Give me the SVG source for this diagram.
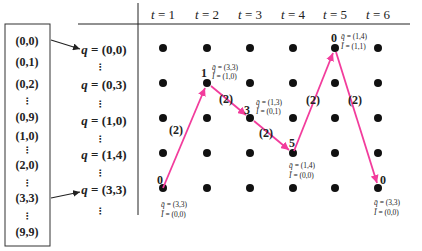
<svg xmlns="http://www.w3.org/2000/svg" width="422" height="251" viewBox="0 0 422 251">
<style>
.b{font-family:"Liberation Serif","DejaVu Serif",serif;font-weight:bold;font-size:12px;fill:#222;text-anchor:middle}
.q{font-family:"Liberation Serif","DejaVu Serif",serif;font-weight:bold;font-size:13px;fill:#222;text-anchor:middle}
.h{font-family:"Liberation Serif","DejaVu Serif",serif;font-size:13px;fill:#222;text-anchor:middle}
.s{font-family:"Liberation Serif","DejaVu Serif",serif;font-size:7.5px;fill:#222}
.v{font-family:"DejaVu Sans",sans-serif;font-size:9px;fill:#222;text-anchor:middle;font-weight:bold}
.d{fill:#111}
.ln{stroke:#222;stroke-width:1;fill:none}
.pk{stroke:#f23c9c;stroke-width:1.8;fill:none;marker-end:url(#pa)}
.bk{stroke:#222;stroke-width:1.2;fill:none;marker-end:url(#ba)}
</style>
<defs>
<marker id="pa" markerWidth="10" markerHeight="8" refX="8" refY="4" orient="auto" markerUnits="userSpaceOnUse"><path d="M0,0 L8,4 L0,8 z" fill="#f23c9c"/></marker>
<marker id="ba" markerWidth="9" markerHeight="7" refX="7" refY="3.5" orient="auto" markerUnits="userSpaceOnUse"><path d="M0,0 L7,3.5 L0,7 z" fill="#222"/></marker>
</defs>
<g id="table">
<line class="ln" x1="78" y1="24" x2="410" y2="24"/>
<line class="ln" x1="138" y1="3" x2="138" y2="215"/>
<text class="h" x="163" y="19"><tspan font-style="italic">t</tspan> = 1</text>
<text class="h" x="207" y="19"><tspan font-style="italic">t</tspan> = 2</text>
<text class="h" x="250" y="19"><tspan font-style="italic">t</tspan> = 3</text>
<text class="h" x="293" y="19"><tspan font-style="italic">t</tspan> = 4</text>
<text class="h" x="335" y="19"><tspan font-style="italic">t</tspan> = 5</text>
<text class="h" x="378" y="19"><tspan font-style="italic">t</tspan> = 6</text>
</g>
<g id="statebox">
<rect x="5" y="24" width="45" height="222" fill="none" stroke="#333" stroke-width="1"/>
<text class="b" x="27" y="45">(0,0)</text>
<text class="b" x="27" y="66">(0,1)</text>
<text class="b" x="27" y="88">(0,2)</text>
<text class="v" x="27" y="104">⋮</text>
<text class="b" x="27" y="121">(0,9)</text>
<text class="b" x="27" y="140">(1,0)</text>
<text class="v" x="27" y="153">⋮</text>
<text class="b" x="27" y="169">(2,0)</text>
<text class="v" x="27" y="186">⋮</text>
<text class="b" x="27" y="202">(3,3)</text>
<text class="v" x="27" y="219">⋮</text>
<text class="b" x="27" y="236">(9,9)</text>
</g>
<g id="qlabels">
<text class="q" x="104" y="54"><tspan font-style="italic">q</tspan> = (0,0)</text>
<text class="v" x="100" y="70">⋮</text>
<text class="q" x="104" y="89"><tspan font-style="italic">q</tspan> = (0,3)</text>
<text class="v" x="100" y="107">⋮</text>
<text class="q" x="104" y="125"><tspan font-style="italic">q</tspan> = (1,0)</text>
<text class="v" x="100" y="142">⋮</text>
<text class="q" x="104" y="159"><tspan font-style="italic">q</tspan> = (1,4)</text>
<text class="v" x="100" y="176">⋮</text>
<text class="q" x="104" y="194"><tspan font-style="italic">q</tspan> = (3,3)</text>
<text class="v" x="100" y="214">⋮</text>
</g>
<g id="grid">
<circle class="d" cx="163" cy="48" r="4"/><circle class="d" cx="207" cy="48" r="4"/><circle class="d" cx="250" cy="48" r="4"/><circle class="d" cx="293" cy="48" r="4"/><circle class="d" cx="335" cy="48" r="4"/><circle class="d" cx="378" cy="48" r="4"/>
<circle class="d" cx="163" cy="83" r="4"/><circle class="d" cx="207" cy="83" r="4"/><circle class="d" cx="250" cy="83" r="4"/><circle class="d" cx="293" cy="83" r="4"/><circle class="d" cx="335" cy="83" r="4"/><circle class="d" cx="378" cy="83" r="4"/>
<circle class="d" cx="163" cy="118" r="4"/><circle class="d" cx="207" cy="118" r="4"/><circle class="d" cx="250" cy="118" r="4"/><circle class="d" cx="293" cy="118" r="4"/><circle class="d" cx="335" cy="118" r="4"/><circle class="d" cx="378" cy="118" r="4"/>
<circle class="d" cx="163" cy="153" r="4"/><circle class="d" cx="207" cy="153" r="4"/><circle class="d" cx="250" cy="153" r="4"/><circle class="d" cx="293" cy="153" r="4"/><circle class="d" cx="335" cy="153" r="4"/><circle class="d" cx="378" cy="153" r="4"/>
<circle class="d" cx="163" cy="188" r="4"/><circle class="d" cx="207" cy="188" r="4"/><circle class="d" cx="250" cy="188" r="4"/><circle class="d" cx="293" cy="188" r="4"/><circle class="d" cx="335" cy="188" r="4"/><circle class="d" cx="378" cy="188" r="4"/>
</g>
<g id="connectors">
<line class="bk" x1="51" y1="40" x2="80" y2="49"/>
<line class="bk" x1="51" y1="198" x2="80" y2="192"/>
<line class="pk" x1="163" y1="188" x2="205" y2="88"/>
<line class="pk" x1="211" y1="86" x2="246" y2="115"/>
<line class="pk" x1="254" y1="121" x2="289" y2="150"/>
<line class="pk" x1="294" y1="151" x2="333" y2="53"/>
<line class="pk" x1="336" y1="52" x2="377" y2="183"/>
<text class="b" x="176" y="134">(2)</text>
<text class="b" x="226" y="103">(2)</text>
<text class="b" x="266" y="137">(2)</text>
<text class="b" x="313" y="104">(2)</text>
<text class="b" x="355" y="104">(2)</text>
</g>
<g id="n1">
<text class="b" x="160" y="184">0</text>
<text class="s" x="161" y="207"><tspan font-style="italic">q̄</tspan> = (3,3)</text>
<text class="s" x="161" y="217"><tspan font-style="italic">Ī</tspan> = (0,0)</text>
</g>
<g id="n2">
<text class="b" x="204" y="77">1</text>
<text class="s" x="212" y="70"><tspan font-style="italic">q̄</tspan> = (3,3)</text>
<text class="s" x="212" y="79"><tspan font-style="italic">Ī</tspan> = (1,0)</text>
</g>
<g id="n3">
<text class="b" x="247" y="114">3</text>
<text class="s" x="256" y="105"><tspan font-style="italic">q̄</tspan> = (1,3)</text>
<text class="s" x="256" y="114"><tspan font-style="italic">Ī</tspan> = (0,1)</text>
</g>
<g id="n4">
<text class="b" x="292" y="147">5</text>
<text class="s" x="289" y="168"><tspan font-style="italic">q̄</tspan> = (1,4)</text>
<text class="s" x="289" y="178"><tspan font-style="italic">Ī</tspan> = (0,0)</text>
</g>
<g id="n5">
<text class="b" x="334" y="42">0</text>
<text class="s" x="341" y="39"><tspan font-style="italic">q̄</tspan> = (1,4)</text>
<text class="s" x="341" y="49"><tspan font-style="italic">Ī</tspan> = (1,1)</text>
</g>
<g id="n6">
<text class="b" x="383" y="184">0</text>
<text class="s" x="374" y="205"><tspan font-style="italic">q̄</tspan> = (3,3)</text>
<text class="s" x="374" y="215"><tspan font-style="italic">Ī</tspan> = (0,0)</text>
</g>
</svg>
